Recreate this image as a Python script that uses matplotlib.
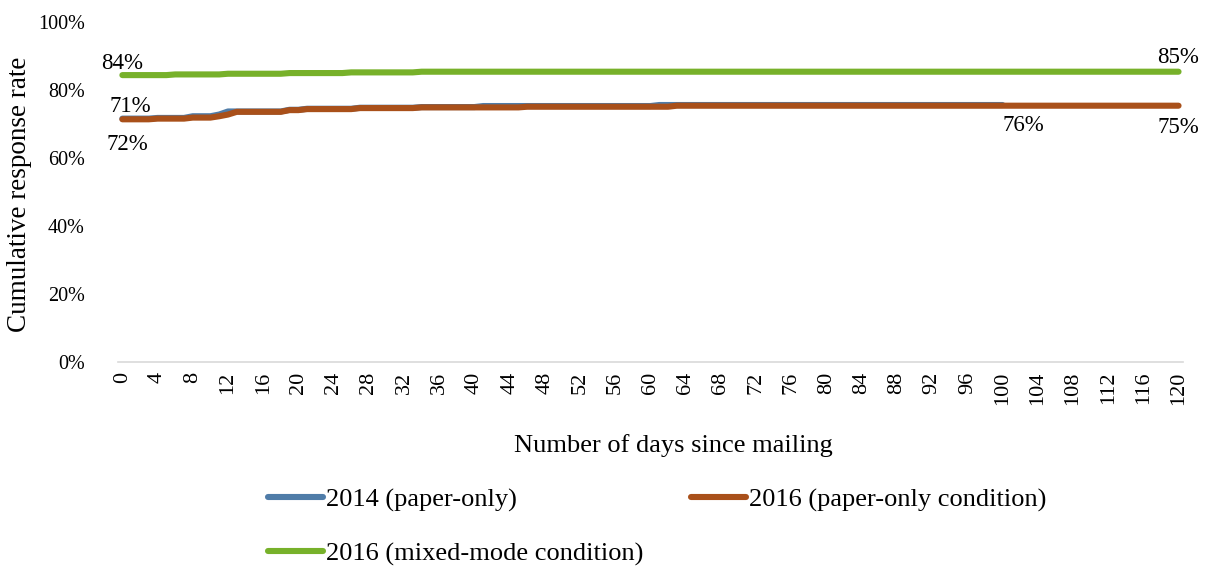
import matplotlib
matplotlib.use("Agg")
import matplotlib.pyplot as plt

plt.rcParams["font.family"] = ["Liberation Serif", "DejaVu Serif"]

# cumulative response rate (%) by day since mailing
DAYS = list(range(121))
DAYS_2014 = list(range(101))

RATE_2014 = [
    71.6, 71.6, 71.6, 71.6, 71.8, 71.8, 71.8, 71.8, 72.3, 72.3,
    72.3, 72.8, 73.7, 73.7, 73.7, 73.7, 73.7, 73.7, 73.7, 74.2,
    74.2, 74.5, 74.5, 74.5, 74.5, 74.5, 74.5, 74.8, 74.8, 74.8,
    74.8, 74.8, 74.8, 74.8, 75.0, 75.0, 75.0, 75.0, 75.0, 75.0,
    75.0, 75.3, 75.3, 75.3, 75.3, 75.3, 75.3, 75.3, 75.3, 75.3,
    75.3, 75.3, 75.3, 75.3, 75.3, 75.3, 75.3, 75.3, 75.3, 75.3,
    75.3, 75.6, 75.6, 75.6, 75.6, 75.6, 75.6, 75.6, 75.6, 75.6,
    75.6, 75.6, 75.6, 75.6, 75.6, 75.6, 75.6, 75.6, 75.6, 75.6,
    75.6, 75.6, 75.6, 75.6, 75.6, 75.6, 75.6, 75.6, 75.6, 75.6,
    75.6, 75.6, 75.6, 75.6, 75.6, 75.6, 75.6, 75.6, 75.6, 75.6,
    75.6,
]
RATE_2016_PAPER = [
    71.4, 71.4, 71.4, 71.4, 71.6, 71.6, 71.6, 71.6, 71.9, 71.9,
    71.9, 72.3, 72.8, 73.6, 73.6, 73.6, 73.6, 73.6, 73.6, 74.1,
    74.1, 74.4, 74.4, 74.4, 74.4, 74.4, 74.4, 74.7, 74.7, 74.7,
    74.7, 74.7, 74.7, 74.7, 74.9, 74.9, 74.9, 74.9, 74.9, 74.9,
    74.9, 74.9, 74.9, 74.9, 74.9, 74.9, 75.1, 75.1, 75.1, 75.1,
    75.1, 75.1, 75.1, 75.1, 75.1, 75.1, 75.1, 75.1, 75.1, 75.1,
    75.1, 75.1, 75.1, 75.4, 75.4, 75.4, 75.4, 75.4, 75.4, 75.4,
    75.4, 75.4, 75.4, 75.4, 75.4, 75.4, 75.4, 75.4, 75.4, 75.4,
    75.4, 75.4, 75.4, 75.4, 75.4, 75.4, 75.4, 75.4, 75.4, 75.4,
    75.4, 75.4, 75.4, 75.4, 75.4, 75.4, 75.4, 75.4, 75.4, 75.4,
    75.4, 75.4, 75.4, 75.4, 75.4, 75.4, 75.4, 75.4, 75.4, 75.4,
    75.4, 75.4, 75.4, 75.4, 75.4, 75.4, 75.4, 75.4, 75.4, 75.4,
    75.4,
]
RATE_2016_MIXED = [
    84.4, 84.4, 84.4, 84.4, 84.4, 84.4, 84.6, 84.6, 84.6, 84.6,
    84.6, 84.6, 84.8, 84.8, 84.8, 84.8, 84.8, 84.8, 84.8, 85.0,
    85.0, 85.0, 85.0, 85.0, 85.0, 85.0, 85.2, 85.2, 85.2, 85.2,
    85.2, 85.2, 85.2, 85.2, 85.4, 85.4, 85.4, 85.4, 85.4, 85.4,
    85.4, 85.4, 85.4, 85.4, 85.4, 85.4, 85.4, 85.4, 85.4, 85.4,
    85.4, 85.4, 85.4, 85.4, 85.4, 85.4, 85.4, 85.4, 85.4, 85.4,
    85.4, 85.4, 85.4, 85.4, 85.4, 85.4, 85.4, 85.4, 85.4, 85.4,
    85.4, 85.4, 85.4, 85.4, 85.4, 85.4, 85.4, 85.4, 85.4, 85.4,
    85.4, 85.4, 85.4, 85.4, 85.4, 85.4, 85.4, 85.4, 85.4, 85.4,
    85.4, 85.4, 85.4, 85.4, 85.4, 85.4, 85.4, 85.4, 85.4, 85.4,
    85.4, 85.4, 85.4, 85.4, 85.4, 85.4, 85.4, 85.4, 85.4, 85.4,
    85.4, 85.4, 85.4, 85.4, 85.4, 85.4, 85.4, 85.4, 85.4, 85.4,
    85.4,
]
LABELS = ["2014 (paper-only)", "2016 (paper-only condition)", "2016 (mixed-mode condition)"]
YTICKS = [0, 20, 40, 60, 80, 100]
XTICKS = list(range(0, 121, 4))

BLUE, ORANGE, GREEN = "#4f7ca8", "#a9501a", "#77b12a"

fig = plt.figure(figsize=(12.05, 5.66), dpi=100)
ax = fig.add_axes([0.0979, 0.3604, 0.8838, 0.6006])

lw = 4.4
l1, = ax.plot(DAYS_2014, RATE_2014, color=BLUE, lw=lw, solid_capstyle="round")
l2, = ax.plot(DAYS, RATE_2016_PAPER, color=ORANGE, lw=lw, solid_capstyle="round")
l3, = ax.plot(DAYS, RATE_2016_MIXED, color=GREEN, lw=lw, solid_capstyle="round")

ax.set_xlim(-0.5, 120.5)
ax.set_ylim(0, 100)
ax.set_yticks(YTICKS)
ax.set_yticklabels([f"{v}%" for v in YTICKS], fontsize=14.5)
ax.set_xticks(XTICKS)
ax.set_xticklabels([str(v) for v in XTICKS], fontsize=16, rotation=90)
ax.tick_params(axis="y", length=0, pad=24)
ax.tick_params(axis="x", length=0, pad=7)
for s in ("top", "right", "left"):
    ax.spines[s].set_visible(False)
ax.spines["bottom"].set_color("#d9d9d9")
ax.spines["bottom"].set_linewidth(1.2)

# data labels at the first and last point of each series
def label(x, y, dx, dy):
    ax.annotate(f"{y:.0f}%", (x, y), xytext=(dx, dy), textcoords="offset pixels",
                ha="center", va="center", fontsize=16.5)

label(DAYS[0], RATE_2016_MIXED[0], 0, 12)
label(DAYS[0], RATE_2016_PAPER[0], 8, 13)
label(DAYS_2014[0], RATE_2014[0], 5, -26)
label(DAYS_2014[-1], RATE_2014[-1], 21, -20)
label(DAYS[-1], RATE_2016_PAPER[-1], 0, -22)
label(DAYS[-1], RATE_2016_MIXED[-1], 0, 14)

fig.text(20 / 1205, 1 - 194 / 566, "Cumulative response rate", rotation=90,
         ha="center", va="center", fontsize=19.5)
fig.text(673 / 1205, 1 - 446 / 566, "Number of days since mailing",
         ha="center", va="center", fontsize=19)

# row-major legend: reorder handles so column filling matches
fig.legend([l1, l3, l2], [LABELS[0], LABELS[2], LABELS[1]], ncol=2,
           loc="upper left", bbox_to_anchor=(268 / 1205, 1 - 488 / 566),
           frameon=False, fontsize=19, handlelength=2.1, handletextpad=0.1,
           columnspacing=1.8, labelspacing=1.15, borderaxespad=0, borderpad=0)

fig.savefig("out.png", dpi=100)
